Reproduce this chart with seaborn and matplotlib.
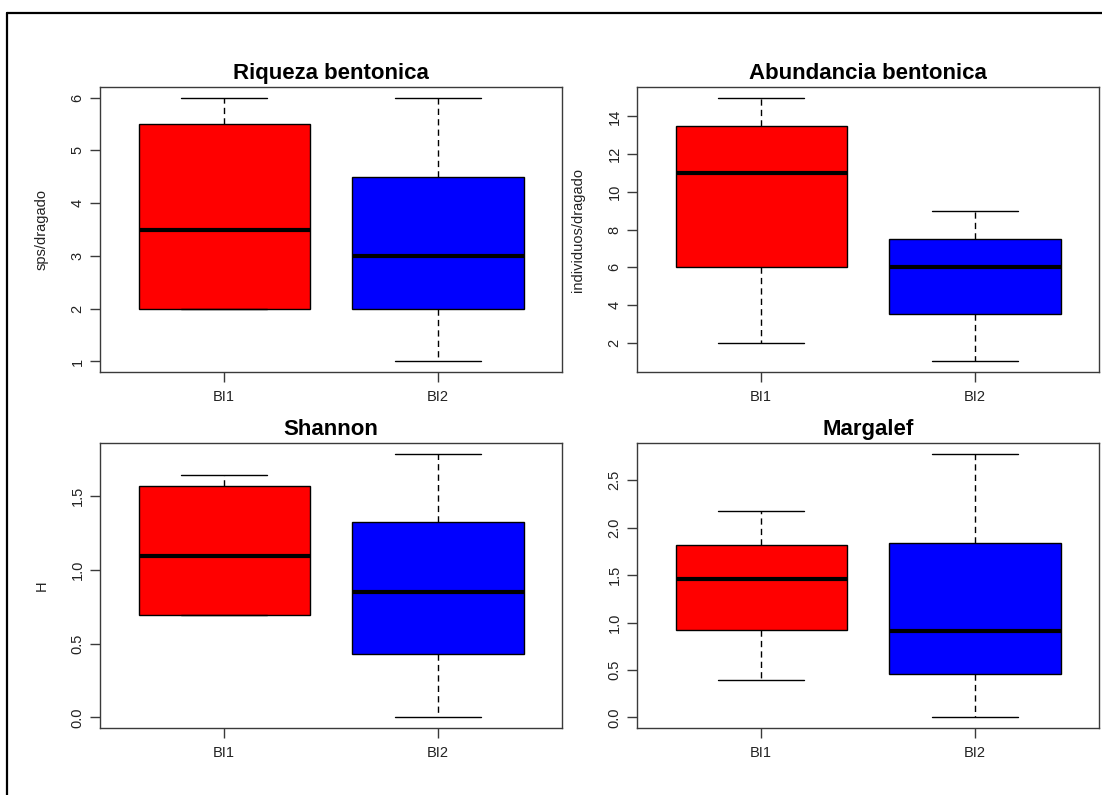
import numpy as np
import pandas as pd
import matplotlib
matplotlib.use("Agg")
import matplotlib.pyplot as plt
from matplotlib.lines import Line2D
import seaborn as sns

# ---- data (five-number summaries: min, Q1, median, Q3, max) ----
groups = ["BI1", "BI2"]
riqueza_bi1 = [2.0, 2.0, 3.5, 5.5, 6.0]
riqueza_bi2 = [1.0, 2.0, 3.0, 4.5, 6.0]
abundancia_bi1 = [2.0, 6.0, 11.0, 13.5, 15.0]
abundancia_bi2 = [1.0, 3.5, 6.0, 7.5, 9.0]
shannon_bi1 = [0.693, 0.693, 1.094, 1.568, 1.638]
shannon_bi2 = [0.0, 0.426, 0.85, 1.319, 1.785]
margalef_bi1 = [0.395, 0.92, 1.455, 1.82, 2.175]
margalef_bi2 = [0.0, 0.46, 0.908, 1.84, 2.78]

titles = ["Riqueza bentonica", "Abundancia bentonica", "Shannon", "Margalef"]
ylabels = ["sps/dragado", "individuos/dragado", "H", ""]
yticks = [
    [1, 2, 3, 4, 5, 6],
    [2, 4, 6, 8, 10, 12, 14],
    [0.0, 0.5, 1.0, 1.5],
    [0.0, 0.5, 1.0, 1.5, 2.0, 2.5],
]
ytick_labels = [
    ["1", "2", "3", "4", "5", "6"],
    ["2", "4", "6", "8", "10", "12", "14"],
    ["0.0", "0.5", "1.0", "1.5"],
    ["0.0", "0.5", "1.0", "1.5", "2.0", "2.5"],
]
panel_values = [
    (riqueza_bi1, riqueza_bi2),
    (abundancia_bi1, abundancia_bi2),
    (shannon_bi1, shannon_bi2),
    (margalef_bi1, margalef_bi2),
]
colors = {"BI1": "#FF0000", "BI2": "#0000FF"}

sns.set_theme(style="white")
plt.rcParams["font.family"] = ["Liberation Sans", "DejaVu Sans"]

W, H = 1102, 795
fig = plt.figure(figsize=(W / 100, H / 100), dpi=100)
fig.patch.set_facecolor("white")

# panel boxes in pixels: left, right, top, bottom
rects = [
    (100, 562, 87, 372),
    (637, 1099, 87, 372),
    (100, 562, 443, 728),
    (637, 1099, 443, 728),
]

axis_col = "#3a3a3a"
for i, (l, r, t, b) in enumerate(rects):
    ax = fig.add_axes([l / W, 1 - b / H, (r - l) / W, (b - t) / H])
    v1, v2 = panel_values[i]
    df = pd.DataFrame({
        "grupo": [groups[0]] * len(v1) + [groups[1]] * len(v2),
        "valor": list(v1) + list(v2),
    })
    sns.boxplot(
        data=df, x="grupo", y="valor", hue="grupo", palette=colors,
        order=groups, hue_order=groups, width=0.8, whis=np.inf,
        saturation=1, linecolor="black", linewidth=1.0, legend=False,
        medianprops=dict(color="black", linewidth=3.0),
        whiskerprops=dict(color="black", linewidth=1.0, linestyle=(0, (4.5, 3))),
        capprops=dict(color="black", linewidth=1.0),
        capwidths=0.4,
        ax=ax,
    )
    allv = np.array(list(v1) + list(v2))
    lo, hi = allv.min(), allv.max()
    pad = 0.04 * (hi - lo)
    ax.set_ylim(lo - pad, hi + pad)
    ax.set_xlim(-0.58, 1.58)
    ax.set_facecolor("white")
    for s in ax.spines.values():
        s.set_visible(True)
        s.set_color(axis_col)
        s.set_linewidth(1.0)
    ax.set_yticks(yticks[i])
    ax.set_yticklabels(ytick_labels[i], rotation=90, va="center")
    ax.set_xticks([0, 1])
    ax.set_xticklabels(groups)
    ax.tick_params(axis="both", direction="out", length=7, width=1.0,
                   color=axis_col, labelsize=10.5, labelcolor="#222222",
                   bottom=True, left=True)
    ax.tick_params(axis="y", pad=4)
    ax.tick_params(axis="x", pad=6)
    ax.set_xlabel("")
    ax.set_ylabel(ylabels[i], fontsize=10.5, color="#222222", labelpad=16)
    ax.set_title(titles[i], fontsize=16, fontweight="bold", pad=6, color="black")

# outer frame (top and left edges of the original image border)
fig.add_artist(Line2D([7 / W, 1.0], [1 - 13 / H, 1 - 13 / H],
                      transform=fig.transFigure, color="black", linewidth=1.6))
fig.add_artist(Line2D([7 / W, 7 / W], [0.0, 1 - 13 / H],
                      transform=fig.transFigure, color="black", linewidth=1.6))

fig.savefig("out.png", dpi=100, facecolor="white")
